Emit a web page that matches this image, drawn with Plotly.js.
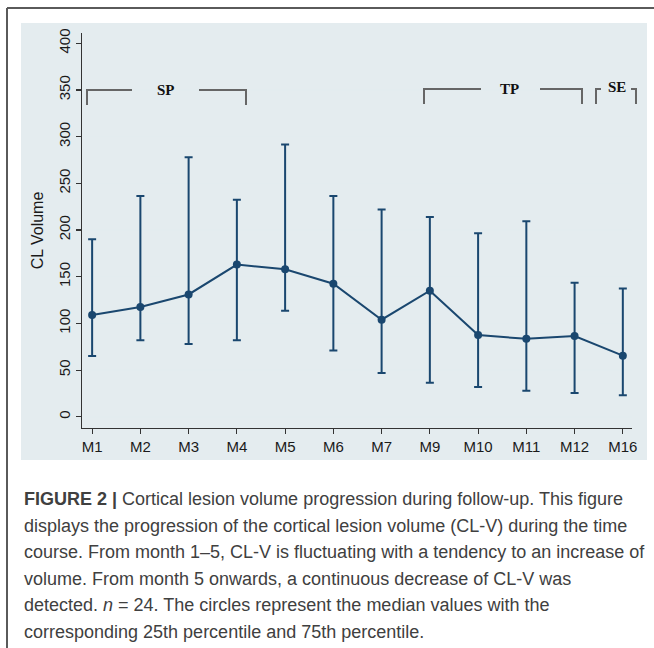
<!DOCTYPE html>
<html>
<head>
<meta charset="utf-8">
<script src="https://cdn.plot.ly/plotly-3.0.1.min.js"></script>
<style>
  html, body { margin: 0; padding: 0; background: #ffffff; }
  #chart { width: 654px; height: 648px; }
</style>
</head>
<body>
<div id="chart"></div>
<script>
// ---- data ----
const months = ['M1', 'M2', 'M3', 'M4', 'M5', 'M6', 'M7', 'M9', 'M10', 'M11', 'M12', 'M16'];
const medianVol = [109, 117.5, 131, 163, 158, 142.5, 104, 135, 87.5, 83.5, 86.5, 65.5];
const p75Vol    = [190, 236.5, 278, 232.5, 291.5, 236.5, 222, 214, 196.5, 209.5, 143.5, 137.5];
const p25Vol    = [65, 82, 78, 82, 113.5, 71, 47, 36.5, 32, 28, 25.5, 23];
const yTickVals = [0, 50, 100, 150, 200, 250, 300, 350, 400];
const gridVals  = [0, 50, 100, 150, 200, 250, 300, 350];
const phaseLabels = ['SP', 'TP', 'SE'];
const captionLines = [
  '<b>FIGURE 2 |</b> Cortical lesion volume progression during follow-up. This figure',
  'displays the progression of the cortical lesion volume (CL-V) during the time',
  'course. From month 1–5, CL-V is fluctuating with a tendency to an increase of',
  'volume. From month 5 onwards, a continuous decrease of CL-V was',
  'detected. <i>n</i> = 24. The circles represent the median values with the',
  'corresponding 25th percentile and 75th percentile.'
];

// ---- layout geometry ----
const W = 654, H = 648;
const M = { l: 82, r: 22, t: 33, b: 220 };
const PW = W - M.l - M.r, PH = H - M.t - M.b;
const px = p => (p - M.l) / PW;             // pixel x -> paper x
const py = p => (H - M.b - p) / PH;         // pixel y -> paper y

const navy = '#1a476f';
const errUp = p75Vol.map((v, i) => v - medianVol[i]);
const errDn = p25Vol.map((v, i) => medianVol[i] - v);

const trace = {
  type: 'scatter',
  mode: 'lines+markers',
  x: months,
  y: medianVol,
  line: { color: navy, width: 2 },
  marker: { color: navy, size: 8 },
  error_y: { type: 'data', symmetric: false, array: errUp, arrayminus: errDn,
             color: navy, thickness: 2, width: 4 },
  showlegend: false,
  hoverinfo: 'x+y'
};

const shapes = [];
// light panel (graph region)
shapes.push({ type: 'rect', xref: 'paper', yref: 'paper', layer: 'below',
  x0: px(21), x1: px(647), y0: py(460), y1: py(23),
  fillcolor: '#e4ecef', line: { width: 0 } });
// outer frame
shapes.push({ type: 'line', xref: 'paper', yref: 'paper', x0: px(7), x1: px(7), y0: py(660), y1: py(8),
  line: { color: '#5a5a5a', width: 2 } });
shapes.push({ type: 'line', xref: 'paper', yref: 'paper', x0: px(7), x1: px(670), y0: py(8), y1: py(8),
  line: { color: '#5a5a5a', width: 2 } });

// phase brackets (pixel anchors)
const bracketPaths = [
  [[87, 105], [87, 90], [132, 90]], [[199, 90], [246, 90], [246, 105]],
  [[424, 104], [424, 89], [481, 89]], [[540, 89], [582, 89], [582, 104]],
  [[596, 104], [596, 89], [601, 89]], [[631, 89], [636, 89], [636, 104]]
];
bracketPaths.forEach(pts => {
  const d = pts.map((p, i) => (i ? 'L' : 'M') + px(p[0]).toFixed(5) + ',' + py(p[1]).toFixed(5)).join(' ');
  shapes.push({ type: 'path', xref: 'paper', yref: 'paper', path: d,
    line: { color: '#666666', width: 2 } });
});

const phasePos = [[166, 90], [509, 89], [617, 87]];
const annotations = phaseLabels.map((t, i) => ({
  text: t, xref: 'paper', yref: 'paper', x: px(phasePos[i][0]), y: py(phasePos[i][1]),
  xanchor: 'center', yanchor: 'middle', showarrow: false,
  font: { family: 'Liberation Serif, Times New Roman, serif', size: 15, color: '#111111', weight: 'bold' }
}));

const capY = [499, 526, 552, 579, 605, 632];
captionLines.forEach((t, i) => annotations.push({
  text: t, xref: 'paper', yref: 'paper', x: px(22), y: py(capY[i]),
  xanchor: 'left', yanchor: 'middle', align: 'left', showarrow: false,
  font: { family: 'Liberation Sans, Arial, sans-serif', size: 18, color: '#404040' }
}));

const layout = {
  width: W, height: H,
  margin: M,
  paper_bgcolor: '#ffffff',
  plot_bgcolor: '#ffffff',
  font: { family: 'Liberation Sans, Arial, sans-serif', color: '#1a1a1a' },
  xaxis: {
    type: 'category',
    range: [-0.21, 11.19],
    showgrid: false, zeroline: false,
    showline: true, linecolor: '#333333', linewidth: 1.2,
    ticks: 'outside', ticklen: 5, tickcolor: '#333333', tickwidth: 1.2,
    tickfont: { size: 15, color: '#1a1a1a' },
    fixedrange: true
  },
  yaxis: {
    range: [-12, 411],
    tickvals: yTickVals,
    ticktext: yTickVals.map(String),
    tickangle: -90,
    showgrid: false, zeroline: false,
    showline: true, linecolor: '#333333', linewidth: 1.2,
    ticks: 'outside', ticklen: 5, tickcolor: '#333333', tickwidth: 1.2,
    tickfont: { size: 15, color: '#1a1a1a' },
    title: { text: 'CL Volume', font: { size: 16, color: '#1a1a1a' }, standoff: 8 },
    fixedrange: true
  },
  yaxis2: {
    overlaying: 'y',
    range: [-12, 411],
    tickvals: gridVals,
    showticklabels: false,
    ticks: '',
    showgrid: true, gridcolor: '#e3ecef', gridwidth: 1.5,
    zeroline: false, showline: false,
    fixedrange: true
  },
  shapes: shapes,
  annotations: annotations
};

// invisible trace to activate the overlay grid axis
const gridTrace = { type: 'scatter', x: [months[0]], y: [null], yaxis: 'y2',
  showlegend: false, hoverinfo: 'skip', mode: 'markers' };

Plotly.newPlot('chart', [gridTrace, trace], layout, { displayModeBar: false, staticPlot: true });
</script>
</body>
</html>
